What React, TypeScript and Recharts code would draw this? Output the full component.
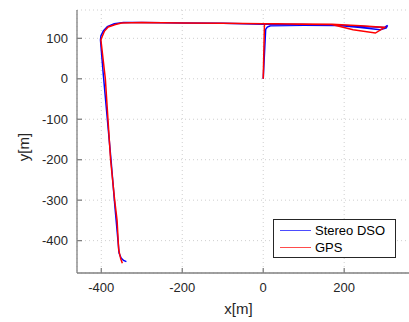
import React from 'react';
import { LineChart, Line, XAxis, YAxis, CartesianGrid, Legend } from 'recharts';

// Stereo DSO trajectory (blue)
const dsoX = [0, 6, 10, 18, 100, 180, 240, 289, 304, 307, 300, 215, 100, 0, -100, -200, -300, -345, -368, -385, -395, -401, -402, -395, -376, -366, -356, -351, -345, -338];
const dsoY = [0, 122, 128, 131, 132, 132, 127, 121, 126, 132, 127, 131, 134, 135, 137, 138, 139, 139, 136, 129, 118, 106, 96, 10, -200, -320, -431, -443, -449, -452];

// GPS trajectory (red)
const gpsX = [0, 3, 8, 100, 170, 222, 277, 300, 240, 170, 0, -100, -200, -300, -350, -365, -383, -392, -398, -401, -390, -377, -367, -361, -357, -352, -348];
const gpsY = [0, 134, 136, 135, 134, 121, 113, 127, 131, 135, 136, 137, 138, 139, 138, 134, 128, 118, 104, 96, 0, -200, -300, -350, -423, -445, -456];

const xTicks = [-400, -200, 0, 200];
const yTicks = [100, 0, -100, -200, -300, -400];
const seriesNames = ['Stereo DSO', 'GPS'];
const seriesColors = ['#0000ff', '#ff0000'];

const dsoData = dsoX.map((x, i) => ({ x, y: dsoY[i] }));
const gpsData = gpsX.map((x, i) => ({ x, y: gpsY[i] }));

const FONT = '"Liberation Sans", Arial, Helvetica, sans-serif';
const AXIS = '#808080';
const AXIS_TOP = '#3a3a3a';
const TXT = '#262626';

const renderLegend = () => (
  <div
    style={{
      width: 123,
      height: 39,
      boxSizing: 'border-box',
      border: '1px solid #262626',
      background: '#ffffff',
    }}
  >
    <svg width={121} height={37} style={{ display: 'block' }}>
      {seriesNames.map((n, i) => (
        <g key={n}>
          <line x1={6} x2={37} y1={10.5 + i * 17} y2={10.5 + i * 17} stroke={seriesColors[i]} strokeWidth={1} strokeOpacity={0.7} />
          <text x={41} y={15 + i * 17} fontFamily={FONT} fontSize={13} fill="#000">
            {n}
          </text>
        </g>
      ))}
    </svg>
  </div>
);

const tickStyle = { fontSize: 13, fontFamily: FONT, fill: TXT };

export default function App() {
  return (
    <div style={{ position: 'absolute', left: 0, top: 0, width: 409, height: 322, overflow: 'hidden', background: '#fff' }}>
      <LineChart width={412} height={322} margin={{ top: 10, right: 1, left: 0, bottom: 0 }}>
        <CartesianGrid stroke="#cfcfcf" strokeDasharray="1 3" />
        <XAxis
          dataKey="x"
          type="number"
          domain={[-460, 365]}
          ticks={xTicks}
          allowDataOverflow
          height={49}
          tickSize={-5}
          tickMargin={15}
          stroke={AXIS}
          strokeWidth={1.3}
          tick={tickStyle}
          label={() => (
            <text x={238.5} y={314} textAnchor="middle" fontFamily={FONT} fontSize={15} fill={TXT}>
              x[m]
            </text>
          )}
        />
        <XAxis
          xAxisId="top"
          orientation="top"
          type="number"
          domain={[-460, 365]}
          ticks={xTicks}
          allowDataOverflow
          height={0}
          tickSize={-5}
          stroke={AXIS_TOP}
          tickFormatter={() => ''}
        />
        <YAxis
          dataKey="y"
          type="number"
          domain={[-480, 170]}
          ticks={yTicks}
          allowDataOverflow
          width={77}
          tickSize={-5}
          tickMargin={14}
          stroke={AXIS}
          strokeWidth={1.3}
          tick={tickStyle}
          label={() => (
            <text
              x={29}
              y={147}
              transform="rotate(-90 29 147)"
              textAnchor="middle"
              fontFamily={FONT}
              fontSize={15}
              fill={TXT}
            >
              y[m]
            </text>
          )}
        />
        <YAxis
          yAxisId="right"
          orientation="right"
          type="number"
          domain={[-480, 170]}
          ticks={yTicks}
          allowDataOverflow
          width={0}
          tickSize={-5}
          stroke={AXIS_TOP}
          tickFormatter={() => ''}
        />
        <Line
          data={dsoData}
          dataKey="y"
          name={seriesNames[0]}
          stroke={seriesColors[0]}
          strokeWidth={1.5}
          dot={false}
          isAnimationActive={false}
        />
        <Line
          data={gpsData}
          dataKey="y"
          name={seriesNames[1]}
          stroke={seriesColors[1]}
          strokeWidth={1.5}
          dot={false}
          isAnimationActive={false}
        />
        <Legend
          layout="vertical"
          align="center"
          verticalAlign="middle"
          content={renderLegend}
          wrapperStyle={{ left: 273, top: 219, width: 123, height: 39 }}
        />
      </LineChart>
    </div>
  );
}
